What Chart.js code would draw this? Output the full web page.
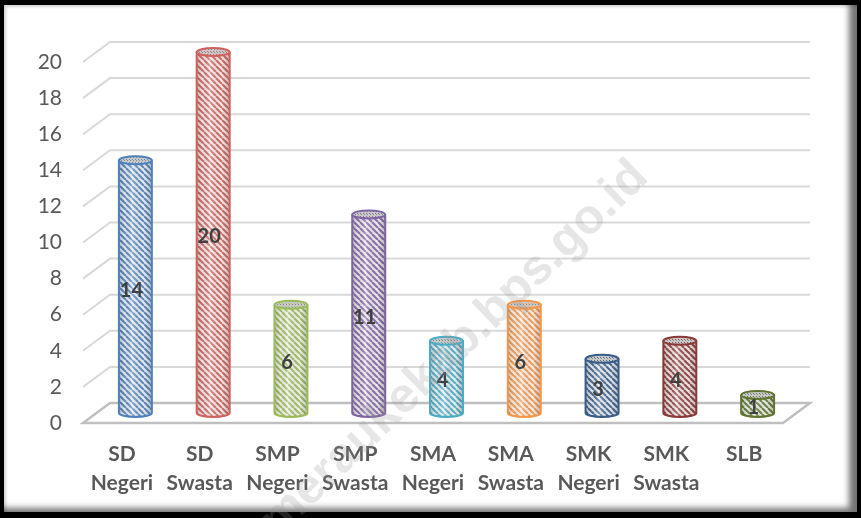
<!DOCTYPE html>
<html><head><meta charset="utf-8">
<script src="https://cdn.jsdelivr.net/npm/chart.js@4/dist/chart.umd.min.js"></script>
<style>
html,body{margin:0;padding:0;background:#000;width:861px;height:518px;overflow:hidden}
#frame{position:absolute;left:4px;top:5px;width:853px;height:507px;background:#fff;
 box-shadow: inset -11px -7px 6px -3px rgba(0,0,0,0.55), inset 3px 3px 3px -1px rgba(0,0,0,0.18);}
canvas{position:absolute;left:0;top:0}
</style></head>
<body><div id="frame"></div><canvas id="c" width="861" height="518"></canvas>
<script>
// ---- data ----
const categories = [["SD","Negeri"],["SD","Swasta"],["SMP","Negeri"],["SMP","Swasta"],["SMA","Negeri"],["SMA","Swasta"],["SMK","Negeri"],["SMK","Swasta"],["SLB"]];
const values = [14,20,6,11,4,6,3,4,1];
const barColors = ['#4F81BD','#D0605C','#9BBB59','#8064A2','#4BACC6','#F79646','#385D8A','#8C3836','#5F7530'];
const yMin = 0, yMax = 20, yStep = 2;
const watermarkText = 'meraukekab.bps.go.id';

// ---- styling helpers ----
const DX = 27, DY = -20; // 3D depth offset
function hexToRgb(h){h=h.replace('#','');return [parseInt(h.substr(0,2),16),parseInt(h.substr(2,2),16),parseInt(h.substr(4,2),16)];}
function mix(h, w){const c=hexToRgb(h);return 'rgb('+c.map(v=>Math.round(v+(255-v)*w)).join(',')+')';}
function stripePattern(ctx,color){
  const s=6,c=document.createElement('canvas');c.width=s;c.height=s;
  const g=c.getContext('2d');
  g.fillStyle=mix(color,0.88);g.fillRect(0,0,s,s);
  g.strokeStyle=mix(color,0.1);g.lineWidth=2;
  g.beginPath();
  for(let k=-1;k<=1;k++){g.moveTo(k*s,0);g.lineTo(k*s+s,s);}
  g.stroke();
  return ctx.createPattern(c,'repeat');
}
function topPattern(ctx,color){
  const s=3,c=document.createElement('canvas');c.width=s;c.height=s;
  const g=c.getContext('2d');
  g.fillStyle='#c8c8c8';g.fillRect(0,0,s,s);
  g.fillStyle=mix(color,0.1);g.fillRect(0,0,1,1);g.fillStyle='#8a8a8a';g.fillRect(1,1,1,1);
  return ctx.createPattern(c,'repeat');
}

const plugin3d = {
  id:'plugin3d',
  beforeDatasetsDraw(chart){
    const ctx=chart.ctx, ys=chart.scales.y, a=chart.chartArea;
    ctx.save();
    ctx.lineCap='butt';
    ys.ticks.forEach(t=>{
      if(t.value===0) return;
      const y=ys.getPixelForValue(t.value);
      ctx.strokeStyle='#d9d9d9';ctx.lineWidth=2;
      ctx.beginPath();ctx.moveTo(a.left,y);ctx.lineTo(a.left+DX,y+DY);ctx.lineTo(a.right+DX,y+DY);ctx.stroke();
    });
    const y0=ys.getPixelForValue(0);
    ctx.strokeStyle='#bfbfbf';ctx.lineWidth=2.5;ctx.lineJoin='miter';
    ctx.beginPath();ctx.moveTo(a.left,y0);ctx.lineTo(a.left+DX,y0+DY);ctx.lineTo(a.right+DX,y0+DY);ctx.lineTo(a.right,y0);ctx.closePath();ctx.stroke();
    ctx.restore();
  },
  afterDatasetsDraw(chart){
    const ctx=chart.ctx, ys=chart.scales.y;
    const meta=chart.getDatasetMeta(0);
    const base=ys.getPixelForValue(0)+DY/2;
    meta.data.forEach((el,i)=>{
      const col=barColors[i];
      const cx=el.x+DX/2, rx=el.width/2, ry=4;
      const top=ys.getPixelForValue(values[i])+DY/2;
      ctx.save();
      ctx.beginPath();
      ctx.moveTo(cx-rx,top);ctx.lineTo(cx-rx,base);
      ctx.ellipse(cx,base,rx,ry,0,Math.PI,0,true);
      ctx.lineTo(cx+rx,top);
      ctx.ellipse(cx,top,rx,ry,0,0,Math.PI,true);
      ctx.closePath();
      ctx.fillStyle=stripePattern(ctx,col);ctx.fill();
      const gr=ctx.createLinearGradient(cx-rx,0,cx+rx,0);
      gr.addColorStop(0,'rgba(0,0,0,0.22)');
      gr.addColorStop(0.18,'rgba(0,0,0,0.04)');
      gr.addColorStop(0.4,'rgba(255,255,255,0.25)');
      gr.addColorStop(0.75,'rgba(0,0,0,0.02)');
      gr.addColorStop(1,'rgba(0,0,0,0.22)');
      ctx.fillStyle=gr;ctx.fill();
      ctx.strokeStyle=col;ctx.lineWidth=2;
      ctx.beginPath();
      ctx.moveTo(cx-rx,top);ctx.lineTo(cx-rx,base);
      ctx.ellipse(cx,base,rx,ry,0,Math.PI,0,true);
      ctx.lineTo(cx+rx,top);
      ctx.stroke();
      ctx.beginPath();ctx.ellipse(cx,top,rx,ry,0,0,Math.PI*2);
      ctx.fillStyle=topPattern(ctx,col);ctx.fill();
      ctx.strokeStyle=col;ctx.lineWidth=2;ctx.stroke();
      ctx.fillStyle='#404040';ctx.font='bold 20px Lato';ctx.textAlign='center';ctx.textBaseline='middle';
      ctx.fillText(String(values[i]),cx-4,(top+base)/2+4);
      ctx.restore();
    });
  },
  afterDraw(chart){
    const ctx=chart.ctx;
    ctx.save();
    ctx.translate(464,359);ctx.rotate(-44*Math.PI/180);
    ctx.font='bold 49px "Liberation Sans"';ctx.fillStyle='rgba(150,150,150,0.24)';
    ctx.textAlign='center';ctx.textBaseline='alphabetic';
    ctx.fillText(watermarkText,0,0);
    ctx.restore();
  }
};

new Chart(document.getElementById('c'),{
  type:'bar',
  data:{labels:categories,datasets:[{data:values,backgroundColor:'rgba(0,0,0,0)',borderWidth:0,barPercentage:0.424,categoryPercentage:1}]},
  options:{
    responsive:false,animation:false,devicePixelRatio:1,
    layout:{padding:{left:0,right:78,top:62,bottom:0}},
    plugins:{legend:{display:false},tooltip:{enabled:false}},
    scales:{
      x:{grid:{display:false,drawTicks:false},border:{display:false},
         ticks:{color:'#595959',font:{family:'Lato',size:21,weight:'bold',lineHeight:1.38},padding:17,maxRotation:0,autoSkip:false},
         afterFit(s){s.height=95;}},
      y:{min:yMin,max:yMax,grid:{display:false,drawTicks:false},border:{display:false},
         ticks:{stepSize:yStep,color:'#595959',font:{family:'Lato',size:21},padding:21},
         afterFit(s){s.width=83;}}
    }
  },
  plugins:[plugin3d]
});
</script>
</body></html>
